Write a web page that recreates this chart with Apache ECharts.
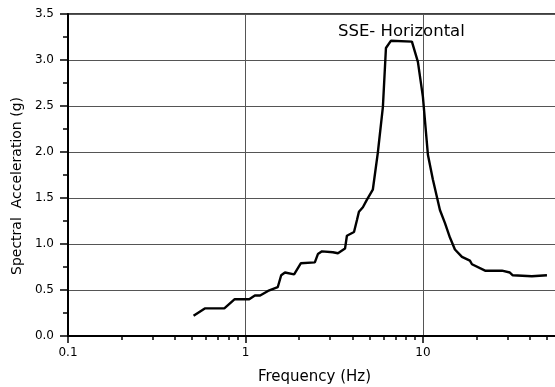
<!DOCTYPE html>
<html>
<head>
<meta charset="utf-8">
<script src="https://cdn.jsdelivr.net/npm/echarts@6/dist/echarts.min.js"></script>
<style>
html, body { margin: 0; padding: 0; background: #fff; }
#chart1 { width: 555px; height: 387px; }
</style>
</head>
<body>
<div id="chart1"></div>
<script>
//频率 Hz
var freq = [0.51, 0.59, 0.76, 0.87, 1.05, 1.13, 1.21, 1.34, 1.52, 1.59, 1.67, 1.88,
	2.05, 2.46, 2.56, 2.70, 3.11, 3.32, 3.64, 3.73, 4.09, 4.25, 4.36, 4.59, 4.83,
	5.22, 5.57, 5.95, 6.19, 6.61, 8.67, 9.37, 10.0, 10.67, 11.38, 12.47, 13.3, 14.2,
	15.15, 16.6, 18.4, 18.9, 22.4, 27.9, 30.9, 32.1, 41.1, 50.0];

//谱加速度 g
var accel = [0.22, 0.30, 0.30, 0.40, 0.40, 0.44, 0.44, 0.49, 0.53, 0.66, 0.69, 0.67,
	0.79, 0.80, 0.89, 0.92, 0.91, 0.90, 0.95, 1.09, 1.13, 1.26, 1.35, 1.40, 1.48,
	1.59, 1.99, 2.49, 3.13, 3.21, 3.20, 2.98, 2.60, 1.97, 1.70, 1.37, 1.23, 1.07,
	0.94, 0.86, 0.82, 0.78, 0.71, 0.71, 0.69, 0.66, 0.65, 0.66];

//横轴刻度
var majorTicks = [0.1, 1, 10];
var minorTicks = [0.2, 0.3, 0.4, 0.5, 0.6, 0.7, 0.8, 0.9, 2, 3, 4, 5, 6, 7, 8, 9, 20, 30, 40, 50];

var font = "DejaVu Sans";

var points = [];
for (let i = 0; i < freq.length; i++) {
	points.push([freq[i], accel[i]]);
}

//右边界超出画面(原图被裁切)
var gridPos = { left: 68, right: -6, top: 14, bottom: 51, outerBoundsMode: "none" };

var chart = echarts.init(document.getElementById("chart1"));

var option = {
	animation: false,
	title: {
		text: "SSE- Horizontal",
		left: 338,
		top: 23,
		padding: 0,
		textStyle: { fontFamily: font, fontSize: 16.5, fontWeight: "normal", color: "#000" }
	},
	grid: [
		Object.assign({ show: true, borderColor: "#000", borderWidth: 1.5 }, gridPos),
		Object.assign({}, gridPos)
	],
	xAxis: [{
		type: "log",
		gridIndex: 0,
		min: 0.1,
		max: 60,
		logBase: 10,
		name: "Frequency (Hz)",
		nameLocation: "middle",
		nameGap: 34,
		nameTextStyle: { fontFamily: font, fontSize: 15, color: "#000" },
		axisLine: { lineStyle: { color: "#000", width: 2 } },
		axisTick: { customValues: majorTicks, length: 7, lineStyle: { color: "#000", width: 1.5 } },
		axisLabel: {
			customValues: majorTicks,
			margin: 11,
			fontFamily: font, fontSize: 12, color: "#000",
			formatter: function (v) { return String(v); }
		},
		splitLine: { show: true, lineStyle: { color: "#555", width: 1 } }
	}, {
		//次刻度
		type: "log",
		gridIndex: 1,
		min: 0.1,
		max: 60,
		logBase: 10,
		axisLine: { show: false },
		axisTick: { customValues: minorTicks, length: 4, lineStyle: { color: "#000", width: 1.5 } },
		axisLabel: { show: false },
		splitLine: { show: false }
	}],
	yAxis: [{
		type: "value",
		gridIndex: 0,
		min: 0,
		max: 3.5,
		interval: 0.5,
		name: "Spectral  Acceleration (g)",
		nameLocation: "middle",
		nameGap: 44,
		nameTextStyle: { fontFamily: font, fontSize: 14, color: "#000", padding: [0, 22, 0, 0] },
		axisLine: { show: true, lineStyle: { color: "#000", width: 2 } },
		axisTick: { show: true, length: 8, lineStyle: { color: "#000", width: 1.5 } },
		minorTick: { show: true, splitNumber: 2, length: 5, lineStyle: { color: "#000", width: 1.5 } },
		axisLabel: {
			margin: 14,
			fontFamily: font, fontSize: 12, color: "#000",
			formatter: function (v) { return v.toFixed(1); }
		},
		splitLine: { show: true, lineStyle: { color: "#555", width: 1 } }
	}, {
		type: "value",
		gridIndex: 1,
		min: 0,
		max: 3.5,
		show: false
	}],
	series: [{
		type: "line",
		xAxisIndex: 0,
		yAxisIndex: 0,
		data: points,
		showSymbol: false,
		symbol: "none",
		lineStyle: { color: "#000", width: 2.4 },
		z: 5
	}]
};

chart.setOption(option);
</script>
</body>
</html>
